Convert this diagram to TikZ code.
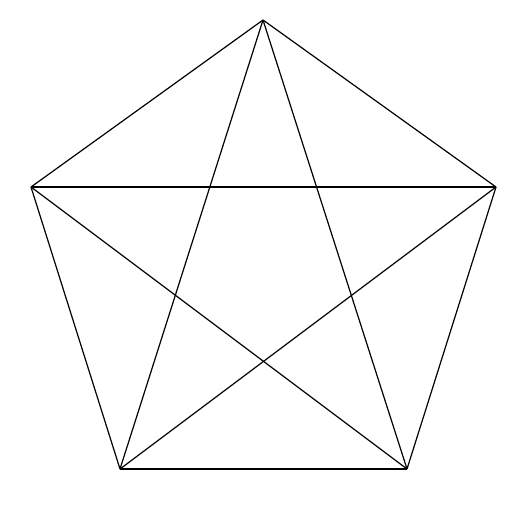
\documentclass[tikz,border=0pt]{standalone}
\usepackage{tikz}
\pgfdeclarelayer{edgelayer}
\pgfdeclarelayer{nodelayer}
\pgfsetlayers{edgelayer,nodelayer,main}
\tikzstyle{vertex}=[coordinate]
\tikzstyle{edge}=[draw=black,line width=0.6pt]

\begin{document}
\begin{tikzpicture}[x=0.5pt,y=-0.5pt]
	\useasboundingbox (0,0) rectangle (529,529);
	\begin{pgfonlayer}{nodelayer}
		\node [style=vertex] (0) at (263, 20) {};
		\node [style=vertex] (1) at (31, 187) {};
		\node [style=vertex] (2) at (496, 187) {};
		\node [style=vertex] (3) at (120, 469) {};
		\node [style=vertex] (4) at (407, 469) {};
	\end{pgfonlayer}
	\begin{pgfonlayer}{edgelayer}
		\draw [style=edge] (0) to (1);
		\draw [style=edge] (0) to (2);
		\draw [style=edge] (0) to (3);
		\draw [style=edge] (0) to (4);
		\draw [style=edge] (1) to (2);
		\draw [style=edge] (1) to (3);
		\draw [style=edge] (1) to (4);
		\draw [style=edge] (2) to (3);
		\draw [style=edge] (2) to (4);
		\draw [style=edge] (3) to (4);
	\end{pgfonlayer}
\end{tikzpicture}
\end{document}
